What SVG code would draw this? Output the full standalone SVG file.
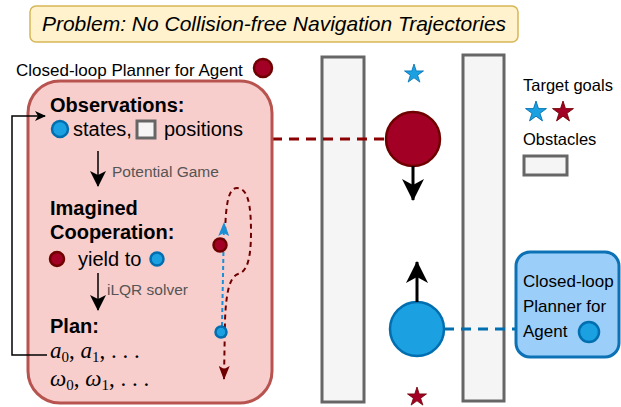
<svg xmlns="http://www.w3.org/2000/svg" width="621" height="407" viewBox="0 0 621 407">
<style>
text{font-family:"Liberation Sans",Arial,sans-serif;fill:#000}
.title{font-size:21px;font-style:italic}
.lbl{font-size:17px}
.body{font-size:20px}
.bold{font-size:20px;font-weight:bold}
.note{font-size:15.5px;fill:#555}
.leg{font-size:16.5px}
.math{font-family:"Liberation Serif","DejaVu Serif",serif;font-size:23px;font-style:italic}
.sub{font-size:15px;font-style:normal}
.up{font-style:normal}
.obst{fill:#f5f5f5;stroke:#666;stroke-width:3}
.red{fill:#a20025;stroke:#6f0000;stroke-width:2.5}
.blue{fill:#1ba1e2;stroke:#006eaf;stroke-width:2.5}
.arrowline{stroke:#000;fill:none}
</style>
<defs>
<polygon id="star" points="0,-10 2.245,-3.09 9.511,-3.09 3.633,1.18 5.878,8.09 0,3.82 -5.878,8.09 -3.633,1.18 -9.511,-3.09 -2.245,-3.09"/>
<marker id="aBig" markerUnits="userSpaceOnUse" markerWidth="22" markerHeight="22" refX="21" refY="11" orient="auto" viewBox="0 0 22 22"><path d="M0,0 L22,11 L0,22 L6,11 z" fill="#000"/></marker>
<marker id="aMid" markerUnits="userSpaceOnUse" markerWidth="16" markerHeight="16" refX="15" refY="8" orient="auto" viewBox="0 0 16 16"><path d="M0,0 L16,8 L0,16 L4,8 z" fill="#000"/></marker>
<marker id="aSmall" markerUnits="userSpaceOnUse" markerWidth="11" markerHeight="10" refX="10" refY="5" orient="auto" viewBox="0 0 11 10"><path d="M0,0 L11,5 L0,10 L3,5 z" fill="#000"/></marker>
<marker id="aBlue" markerUnits="userSpaceOnUse" markerWidth="14" markerHeight="11" refX="13" refY="5.5" orient="auto" viewBox="0 0 14 11"><path d="M0,0 L14,5.5 L0,11 L3,5.5 z" fill="#1b8fd6"/></marker>
<marker id="aRed" markerUnits="userSpaceOnUse" markerWidth="14" markerHeight="11" refX="13" refY="5.5" orient="auto" viewBox="0 0 14 11"><path d="M0,0 L14,5.5 L0,11 L3,5.5 z" fill="#6f0000"/></marker>
</defs>

<g id="title">
<rect x="30" y="6" width="488" height="36" rx="6" fill="#fff2cc" stroke="#d6b656" stroke-width="1.5"/>
<text class="title" x="274" y="31" text-anchor="middle">Problem: No Collision-free Navigation Trajectories</text>
</g>

<g id="planner-label">
<text class="lbl" x="16" y="76">Closed-loop Planner for Agent</text>
<circle class="red" cx="263" cy="68" r="9"/>
</g>

<g id="obstacles">
<rect class="obst" x="322" y="57" width="42" height="345"/>
<rect class="obst" x="463" y="55" width="41" height="346"/>
</g>

<g id="connectors">
<line x1="272" y1="139" x2="387" y2="139" stroke="#8b0000" stroke-width="3" stroke-dasharray="10,7"/>
<line x1="444" y1="329" x2="516" y2="329" stroke="#006eaf" stroke-width="3" stroke-dasharray="10,7"/>
</g>

<g id="planner-box">
<rect x="28" y="81" width="244" height="322" rx="32" fill="#f8cecc" stroke="#b85450" stroke-width="3"/>
<polyline points="47,355 12,355 12,116 45,116" class="arrowline" stroke-width="1.5" marker-end="url(#aSmall)"/>
<text class="bold" x="50" y="112">Observations:</text>
<circle class="blue" cx="60" cy="129" r="8"/>
<text class="body" x="73" y="136">states,</text>
<rect x="137" y="121" width="18" height="17" class="obst" stroke-width="2.5"/>
<text class="body" x="164" y="136">positions</text>
<line x1="98" y1="151" x2="98" y2="186" class="arrowline" stroke-width="1.5" marker-end="url(#aMid)"/>
<text class="note" x="112" y="177">Potential Game</text>
<text class="bold" x="50" y="215">Imagined</text>
<text class="bold" x="50" y="239">Cooperation:</text>
<circle class="red" cx="57" cy="259" r="7"/>
<text class="body" x="78" y="266">yield to</text>
<circle class="blue" cx="157" cy="259" r="6.5"/>
<line x1="98" y1="273" x2="98" y2="310" class="arrowline" stroke-width="1.5" marker-end="url(#aMid)"/>
<text class="note" x="107" y="295">iLQR solver</text>
<text class="bold" x="50" y="333">Plan:</text>
<text class="math" x="50" y="358">a<tspan class="sub" dy="4">0</tspan><tspan class="up" dy="-4">, </tspan>a<tspan class="sub" dy="4">1</tspan><tspan class="up" dy="-4">, . . .</tspan></text>
<text class="math" x="50" y="386">ω<tspan class="sub" dy="4">0</tspan><tspan class="up" dy="-4">, </tspan>ω<tspan class="sub" dy="4">1</tspan><tspan class="up" dy="-4">, . . .</tspan></text>
<path d="M225,232 C226,205 228,188 237,188 C248,188 251,205 251,232 C251,262 246,272 238,274 C229,277 226,295 225,320 L224,379" fill="none" stroke="#6f0000" stroke-width="2" stroke-dasharray="5,4" marker-end="url(#aRed)"/>
<line x1="222" y1="326" x2="224" y2="223" stroke="#1b8fd6" stroke-width="2" stroke-dasharray="4,3" marker-end="url(#aBlue)"/>
<circle class="red" cx="220" cy="245" r="6.5"/>
<circle class="blue" cx="221" cy="332" r="5.5"/>
</g>

<g id="agent-red">
<use href="#star" transform="translate(414,74)" fill="#1ba1e2" stroke="#006eaf" stroke-width="0.8"/>
<circle class="red" cx="413" cy="139" r="27" stroke-width="3"/>
<line x1="413" y1="166" x2="413" y2="200" class="arrowline" stroke-width="3" marker-end="url(#aBig)"/>
</g>

<g id="agent-blue">
<use href="#star" transform="translate(417,397)" fill="#a20025" stroke="#6f0000" stroke-width="0.8"/>
<circle class="blue" cx="417" cy="329" r="27" stroke-width="3"/>
<line x1="417" y1="302" x2="417" y2="262" class="arrowline" stroke-width="3" marker-end="url(#aBig)"/>
</g>

<g id="blue-planner">
<rect x="516" y="252" width="103" height="105" rx="14" fill="#9ccefa" stroke="#0c72b5" stroke-width="3"/>
<text class="lbl" x="523" y="287">Closed-loop</text>
<text class="lbl" x="523" y="312">Planner for</text>
<text class="lbl" x="523" y="337">Agent</text>
<circle class="blue" cx="589" cy="332" r="10"/>
</g>

<g id="legend">
<text class="leg" x="523" y="91">Target goals</text>
<use href="#star" transform="translate(536,112) scale(1.1)" fill="#1ba1e2" stroke="#006eaf" stroke-width="0.8"/>
<use href="#star" transform="translate(563,112) scale(1.1)" fill="#a20025" stroke="#6f0000" stroke-width="0.8"/>
<text class="leg" x="523" y="145">Obstacles</text>
<rect class="obst" x="524" y="156" width="43" height="19"/>
</g>
</svg>
